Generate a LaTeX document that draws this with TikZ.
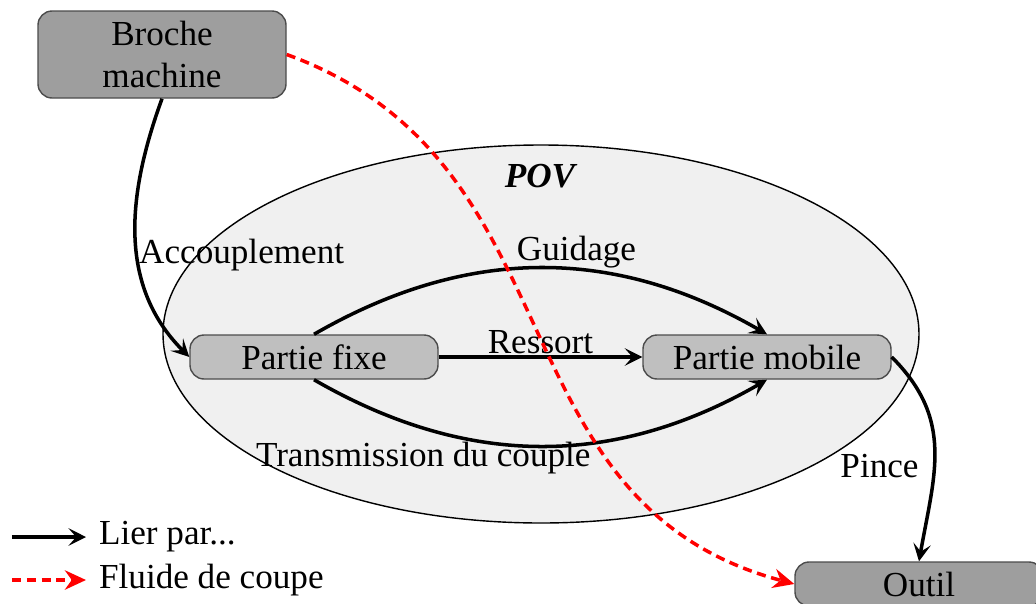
\documentclass[tikz,border=0pt]{standalone}
\usepackage{fontspec}
\setmainfont{Liberation Serif}
\usepackage{tikz}
\usetikzlibrary{shapes}
\usetikzlibrary{arrows.meta}

\tikzset{
  piece/.style={draw=black!70,thin,rounded corners=4pt,fill=black!25,minimum width=2.48cm,minimum height=0.44cm,inner sep=0pt},
  exterieur/.style={piece,fill=black!38},
  lien/.style={line width=1pt,-{Stealth[length=5pt,width=5pt,inset=2.2pt]}},
  fluide/.style={red,line width=1pt,dash pattern=on 2.6pt off 1.6pt,-{Stealth[length=6pt,width=5.5pt]}}
}

\begin{document}
\begin{tikzpicture}[thick]
        \useasboundingbox (0,0) rectangle (10.36,-6.03);
        % frontiere du POV
        \draw[thin,fill=black!6] (5.41,-3.34) ellipse (3.78 and 1.89);
        \node[font=\bfseries\itshape] (pov) at (5.40,-1.76) {POV};

        \node[exterieur,minimum height=0.87cm,align=center] (broche) at (1.62,-0.545) {Broche\\machine};
        \node[piece] (fixe) at (3.14,-3.57) {Partie fixe};
        \node[piece] (mobile) at (7.67,-3.57) {Partie mobile};
        \node[exterieur] (outil) at (9.19,-5.84) {Outil};

        \draw[lien] (broche.south) to[out=-110,in=135] node[pos=0.57,anchor=west,inner sep=0pt] {Accouplement} (fixe.west);
        \draw[lien] (fixe.north) to[out=30,in=150] node[pos=0.58,above,inner sep=0pt] {Guidage} (mobile.north);
        \draw[lien] (fixe.east) -- node[above,inner sep=0.5pt] {Ressort} (mobile.west);
        \draw[lien] (fixe.south) to[out=-30,in=-150] node[pos=0.24,below,inner sep=3.5pt] {Transmission du couple} (mobile.south);
        \draw[lien] (mobile.east) to[out=-45,in=80,looseness=1.1] node[pos=0.58,left,inner sep=4pt] {Pince} (outil.north);
        \draw[fluide] (broche.east) to[out=-20,in=165,looseness=1.1] (outil.west);

        % legende
        \coordinate (lA) at (0.12,-5.37);
        \coordinate (lB) at (0.12,-5.80);
        \node[anchor=west] (lier) at (0.86,-5.37) {Lier par...};
        \node[anchor=west] (coupe) at (0.86,-5.80) {Fluide de coupe};
        \draw[lien] (lA) -- (lier.west);
        \draw[fluide] (lB) -- (coupe.west);
\end{tikzpicture}
\end{document}
